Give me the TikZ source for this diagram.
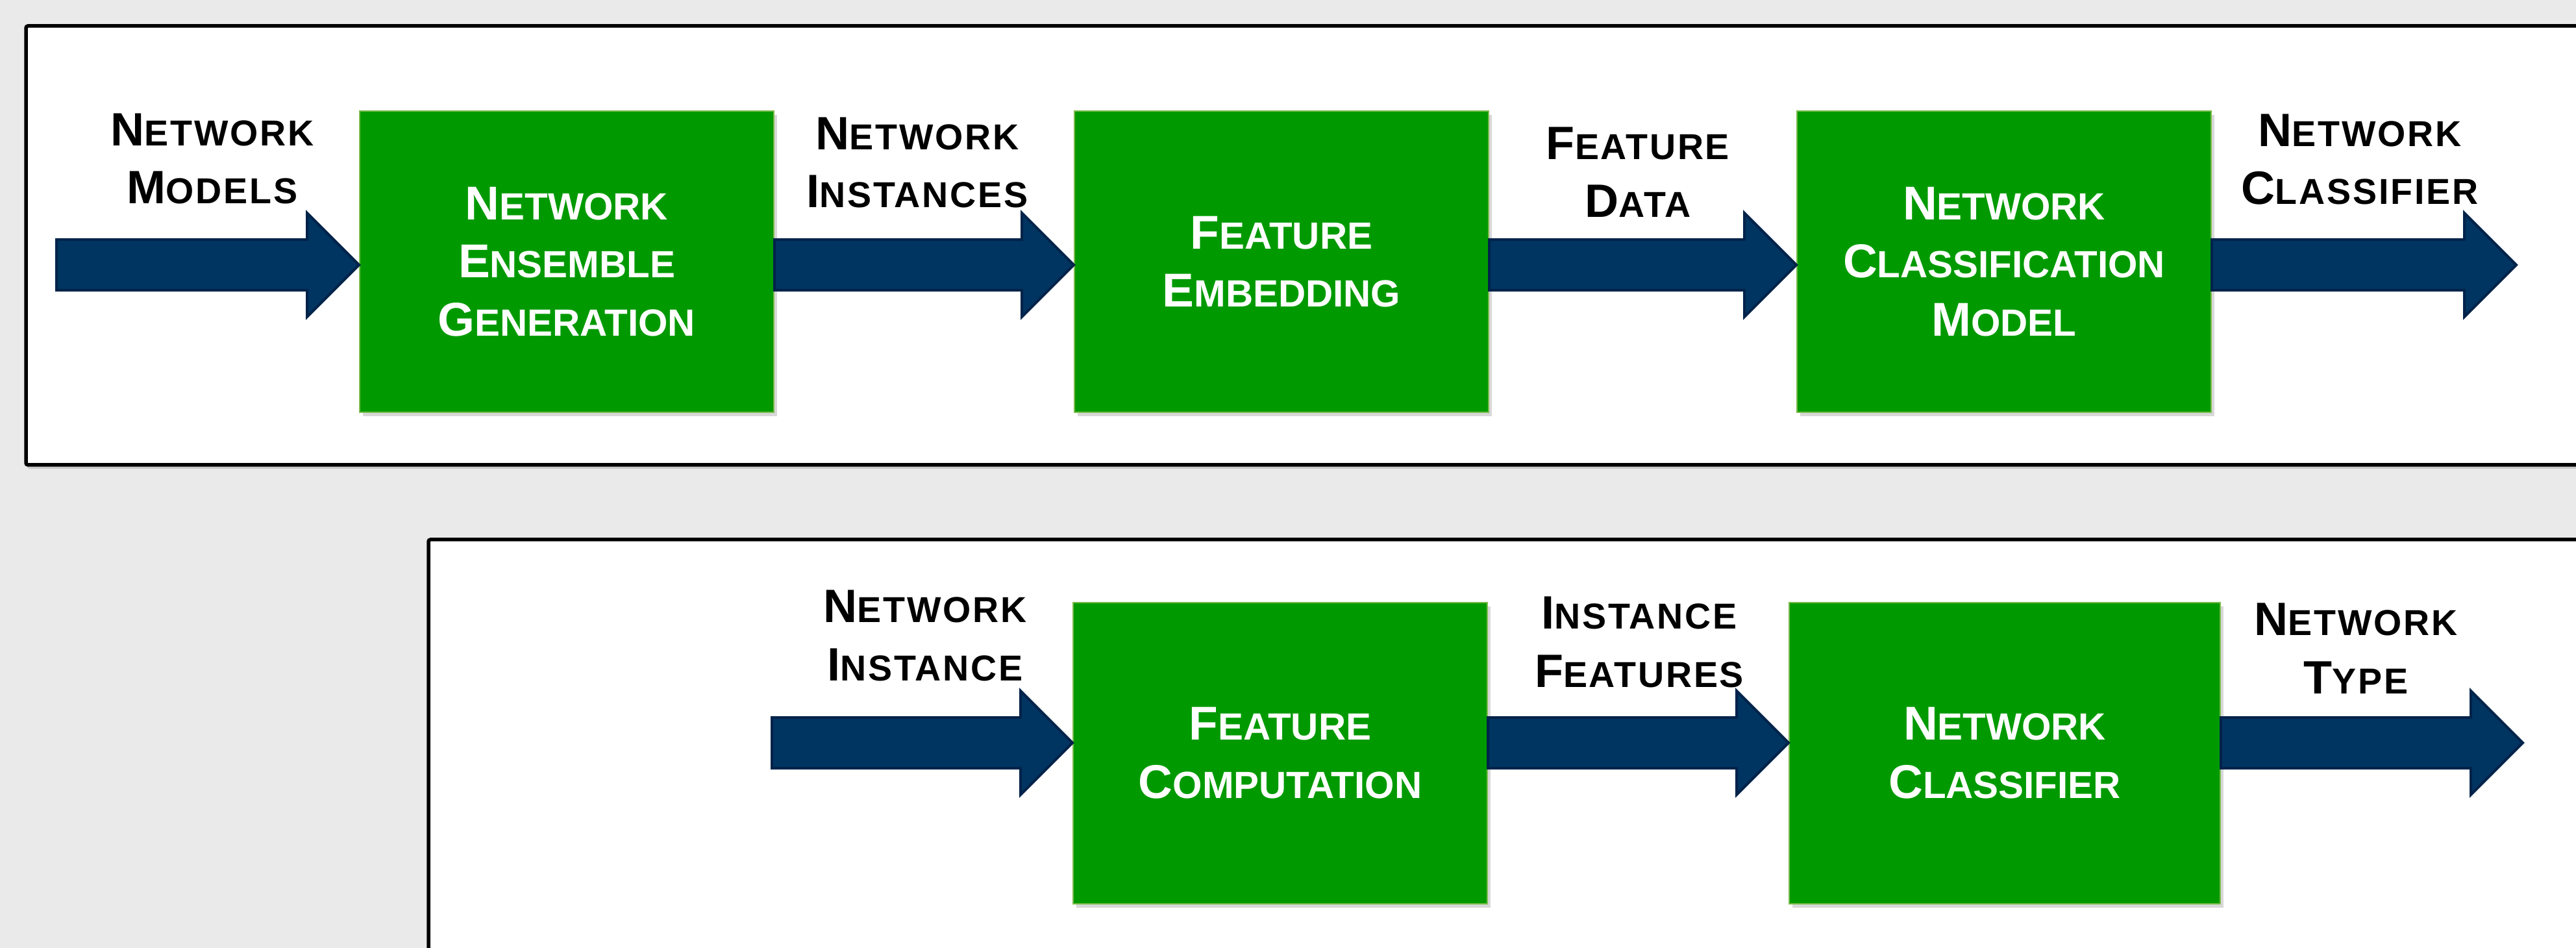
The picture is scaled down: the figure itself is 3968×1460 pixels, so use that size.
\documentclass[tikz,border=0pt]{standalone}
\usepackage{fontspec}
\setmainfont{Liberation Sans}
\newfontfamily\labelfamily[LetterSpace=5]{Liberation Sans}
\usetikzlibrary{calc,shadows}
\definecolor{page_grey}{HTML}{EAEAEA}
\definecolor{stage_green}{HTML}{009A00}
\definecolor{stage_edge}{HTML}{7DBB4E}
\definecolor{arrow_navy}{HTML}{003562}
\definecolor{arrow_edge}{HTML}{00234A}

\newcommand{\capsize}{15pt}
\newcommand{\capword}[2]{#1{\fontsize{\capsize}{25.5pt}\selectfont #2}}
\newcommand{\blockarrow}[2]{%
  \draw [flowarrow] ($(#1)+(0,-39)$) -- ($(#2)+(-80,-39)$) -- ($(#2)+(-80,-80)$) -- (#2)
    -- ($(#2)+(-80,80)$) -- ($(#2)+(-80,39)$) -- ($(#1)+(0,39)$) -- cycle;}

\tikzset{
  panel/.style = {draw = black, line width = 0.55mm, fill = white, rounded corners = 0.3mm,
    drop shadow = {shadow xshift = 0.2mm, shadow yshift = -0.6mm, opacity = 0.3}},
  stage/.style = {rectangle, draw = stage_edge, line width = 0.2mm, fill = stage_green,
    minimum width = 63.8mm, minimum height = 46.4mm, inner sep = 0pt, text = white, align = center,
    font = \bfseries\fontsize{20.8pt}{25.5pt}\selectfont\def\capsize{16.6pt},
    drop shadow = {shadow xshift = 0.5mm, shadow yshift = -0.6mm, opacity = 0.3}},
  flowlabel/.style = {anchor = base, inner sep = 0pt, align = center,
    font = \labelfamily\bfseries\fontsize{20.5pt}{25.5pt}\selectfont\def\capsize{15.8pt}},
  flowarrow/.style = {fill = arrow_navy, draw = arrow_edge, line width = 0.4mm, line join = miter}
}

\begin{document}
\begin{tikzpicture}[x = 0.1mm, y = -0.1mm]
\useasboundingbox (0,0) rectangle (3968,1460);
\clip (0,0) rectangle (3968,1460);
\fill [page_grey] (0,0) rectangle (3968,1460);
\draw [panel] (40,40) rectangle (4100,716);
\draw [panel] (660,831) rectangle (4100,1600);

\node (gen) [stage] at (873,403) {\capword{N}{ETWORK}\\\capword{E}{NSEMBLE}\\\capword{G}{ENERATION}};
\node (embed) [stage] at (1974,403) {\capword{F}{EATURE}\\\capword{E}{MBEDDING}};
\node (classmodel) [stage] at (3087,403) {\capword{N}{ETWORK}\\\capword{C}{LASSIFICATION}\\\capword{M}{ODEL}};
\node (comp) [stage] at (1972,1160) {\capword{F}{EATURE}\\\capword{C}{OMPUTATION}};
\node (classifier) [stage, minimum width = 66.4mm] at (3088,1160) {\capword{N}{ETWORK}\\\capword{C}{LASSIFIER}};

\coordinate (topin) at (87,408);
\coordinate (topout) at (3876,408);
\coordinate (botin) at (1189,1144);
\coordinate (botout) at (3886,1144);

\blockarrow{topin}{gen.west |- topin}
\blockarrow{gen.east |- topin}{embed.west |- topin}
\blockarrow{embed.east |- topin}{classmodel.west |- topin}
\blockarrow{classmodel.east |- topin}{topout}
\blockarrow{botin}{comp.west |- botin}
\blockarrow{comp.east |- botin}{classifier.west |- botin}
\blockarrow{classifier.east |- botin}{botout}

\node (modelslbl) [flowlabel] at (327,314) {\capword{N}{ETWORK}\\\capword{M}{ODELS}};
\node (instanceslbl) [flowlabel] at (1413,320) {\capword{N}{ETWORK}\\\capword{I}{NSTANCES}};
\node (datalbl) [flowlabel] at (2523,335) {\capword{F}{EATURE}\\\capword{D}{ATA}};
\node (classifierlbl) [flowlabel] at (3635,315) {\capword{N}{ETWORK}\\\capword{C}{LASSIFIER}};
\node (instancelbl) [flowlabel] at (1425,1048) {\capword{N}{ETWORK}\\\capword{I}{NSTANCE}};
\node (featureslbl) [flowlabel] at (2525,1058) {\capword{I}{NSTANCE}\\\capword{F}{EATURES}};
\node (typelbl) [flowlabel] at (3629,1068) {\capword{N}{ETWORK}\\\capword{T}{YPE}};
\end{tikzpicture}
\end{document}
